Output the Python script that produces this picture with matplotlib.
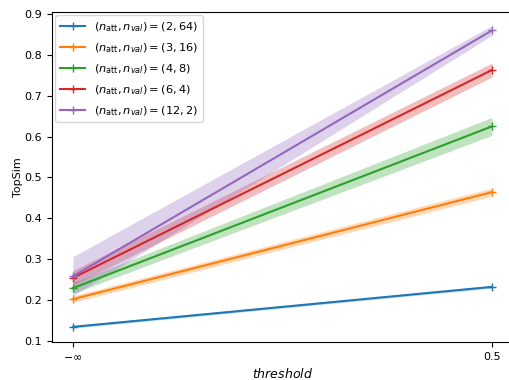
import numpy as np
import matplotlib
matplotlib.use("Agg")
from matplotlib import pyplot as plt

# x positions: -inf threshold and 0.5
thresholds = [0, 1]
tick_labels = [r"$-\infty$", "0.5"]

configs = ["(2, 64)", "(3, 16)", "(4, 8)", "(6, 4)", "(12, 2)"]
topsim_mean = [
    [0.134, 0.232],
    [0.202, 0.464],
    [0.229, 0.625],
    [0.254, 0.763],
    [0.258, 0.860],
]
topsim_err = [
    [0.003, 0.003],
    [0.008, 0.010],
    [0.013, 0.022],
    [0.018, 0.017],
    [0.048, 0.012],
]
colors = ["#1f77b4", "#ff7f0e", "#2ca02c", "#d62728", "#9467bd"]

plt.rcParams["font.size"] = 8

fig = plt.figure(figsize=(5.09, 3.80), dpi=100)
ax = fig.add_axes([52 / 509, 1 - 342 / 380, (513 - 52) / 509, (342 - 12) / 380])

for name, m, e, c in zip(configs, topsim_mean, topsim_err, colors):
    m = np.array(m)
    e = np.array(e)
    ax.plot(thresholds, m, marker="+", color=c, markersize=6,
            label=r"$(n_{\mathrm{att}}, n_{val}) = " + name + "$")
    ax.fill_between(thresholds, m - e, m + e, color=c, alpha=0.3, linewidth=0)

ax.set_xticks(thresholds)
ax.set_xticklabels(tick_labels)
ax.set_yticks(np.arange(0.1, 0.91, 0.1))
ax.set_ylim(0.097, 0.905)
ax.set_xlabel(r"$threshold$", fontsize=9)
ax.set_ylabel("TopSim", labelpad=1)
ax.legend(loc="upper left", fontsize=8.2, handlelength=2.2, labelspacing=0.65,
          borderaxespad=0.3)

plt.savefig("out.png")
